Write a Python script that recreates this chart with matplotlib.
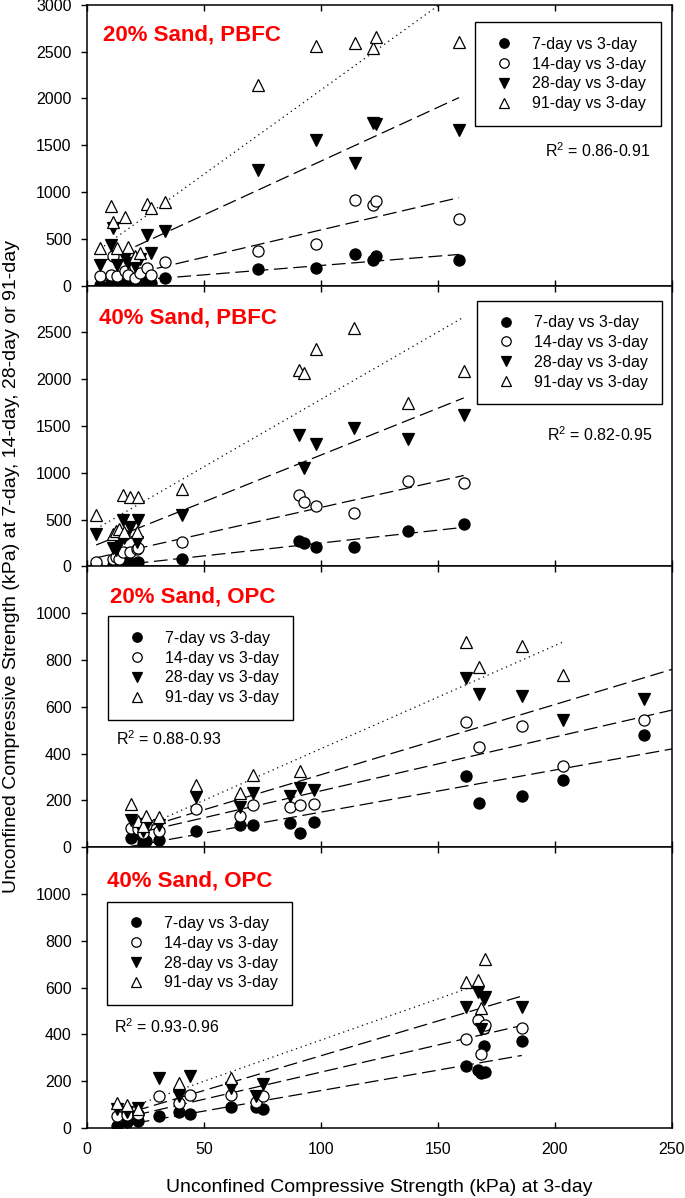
import matplotlib
matplotlib.use('Agg')
import matplotlib.pyplot as plt
import numpy as np

plt.rcParams['font.family'] = ['Liberation Sans', 'DejaVu Sans']
plt.rcParams['mathtext.fontset'] = 'custom'
plt.rcParams['mathtext.rm'] = 'Liberation Sans'

nan = np.nan

# 20% Sand, PBFC
p1_x = [5.6, 10.3, 11.1, 12.7, 16.3, 17.4, 20.5, 22.7, 25.8, 27.4, 33.4, 73.1, 97.7, 114.7, 122.3, 123.7, 159]
p1_d7 = [10, 25, 30, 15, 20, 35, 20, 15, 40, 30, 82, 178, 185, 341, 278, 313, 270]
p1_d14 = [100, 117, 313, 100, 153, 110, 85, 135, 189, 117, 253, 366, 448, 911, 857, 907, 715]
p1_d28 = [224, 437, 619, 224, 300, 245, 206, 280, 544, 352, 580, 1231, 1551, 1309, 1736, 1730, 1665]
p1_d91 = [405, 854, 683, 405, 737, 416, 313, 352, 875, 832, 896, 2142, 2565, 2590, 2537, 2661, 2607]

# 40% Sand, PBFC
p2_x = [3.9, 11.3, 12.2, 13.8, 15.5, 16.0, 18.4, 21.3, 21.7, 40.5, 90.6, 92.6, 98.0, 114.3, 137.3, 161]
p2_d7 = [10, 20, 25, 30, 30, 35, 40, 30, 45, 75, 267, 253, 203, 206, 374, 449]
p2_d14 = [46, 75, 100, 75, 150, 332, 153, 188, 200, 260, 767, 688, 642, 570, 909, 891]
p2_d28 = [350, 200, 171, 250, 492, 300, 420, 260, 492, 553, 1401, 1051, 1305, 1479, 1358, 1615]
p2_d91 = [553, 350, 380, 403, 759, 367, 741, 367, 741, 831, 2096, 2061, 2318, 2542, 1747, 2085]

# 20% Sand, OPC
p3_x = [18.7, 22.0, 24.1, 25.1, 30.8, 46.5, 65.5, 70.8, 86.6, 91.2, 96.9, 161.8, 167.5, 185.8, 203.5, 238.1]
p3_d7 = [40, 55, 18, 28, 30, 68, 93, 93, 104, 61, 108, 306, 189, 218, 289, 479]
p3_d14 = [83, 78, 60, 97, 68, 164, 132, 179, 172, 182, 185, 536, 430, 517, 349, 543]
p3_d28 = [115, 100, 70, 90, 97, 214, 171, 232, 218, 251, 246, 724, 655, 645, 543, 634]
p3_d91 = [185, 110, 90, 135, 130, 268, 232, 308, nan, 325, nan, 876, 769, 859, 738, nan]

# 40% Sand, OPC
p4_x = [12.7, 17.0, 22.0, 30.8, 39.5, 44.1, 61.6, 72.4, 75.2, 161.8, 167.2, 168.2, 169.7, 169.9, 185.8]
p4_d7 = [10, 25, 30, 51, 69, 58, 88, 91, 81, 264, 247, 235, 350, 240, 374]
p4_d14 = [50, 55, 60, 138, 108, 143, 143, 112, 138, 379, 460, 315, 427, 440, 428]
p4_d28 = [80, 70, 84, 212, 138, 223, 169, 138, 187, 516, 580, 424, 552, 560, 516]
p4_d91 = [105, 98, 80, nan, 191, nan, 213, nan, nan, 622, 633, 512, nan, 722, nan]

# fitted lines: (slope, intercept, x start, x end) for 7/14/28/91-day
p1_fit = [(2.0, 15, 5.6, 159), (5.85, 10, 5.6, 159), (11.5, 180, 5.6, 159), (18.0, 290, 5.6, 159)]
p2_fit = [(2.75, -25, 3.9, 161), (5.6, 70, 3.9, 161), (10.0, 190, 3.9, 161), (14.4, 345, 3.9, 161)]
p3_fit = [(1.8, -30, 18.7, 250), (2.3, 11, 18.7, 250), (3.0, 10, 18.7, 250), (4.41, -20, 18.7, 203.5)]
p4_fit = [(1.75, -15, 12.7, 185.8), (2.32, 7, 12.7, 185.8), (2.97, 12, 12.7, 185.8), (3.52, 24, 12.7, 165)]

titles = ['20% Sand, PBFC', '40% Sand, PBFC', '20% Sand, OPC', '40% Sand, OPC']
r2_texts = ['R$^2$ = 0.86-0.91', 'R$^2$ = 0.82-0.95', 'R$^2$ = 0.88-0.93', 'R$^2$ = 0.93-0.96']
labels = ['7-day vs 3-day', '14-day vs 3-day', '28-day vs 3-day', '91-day vs 3-day']

panels = [
    (p1_x, [p1_d7, p1_d14, p1_d28, p1_d91], p1_fit),
    (p2_x, [p2_d7, p2_d14, p2_d28, p2_d91], p2_fit),
    (p3_x, [p3_d7, p3_d14, p3_d28, p3_d91], p3_fit),
    (p4_x, [p4_d7, p4_d14, p4_d28, p4_d91], p4_fit),
]

ylims = [3000, 3000, 1200, 1200]
yticks = [np.arange(0, 3001, 500), np.arange(0, 2501, 500), np.arange(0, 1001, 200), np.arange(0, 1001, 200)]
title_pos = [(0.027, 0.893), (0.021, 0.886), (0.039, 0.89), (0.034, 0.879)]
r2_pos = [(0.9636, 0.48, 'right'), (0.9675, 0.468, 'right'), (0.05, 0.386, 'left'), (0.046, 0.36, 'left')]
leg_pos = [(0.664, 0.937), (0.667, 0.946), (0.036, 0.822), (0.034, 0.806)]

styles = [
    dict(marker='o', mfc='black', mec='black', ms=8),
    dict(marker='o', mfc='white', mec='black', ms=8),
    dict(marker='v', mfc='black', mec='black', ms=8.5),
    dict(marker='^', mfc='white', mec='black', ms=8.5),
]
line_styles = [(0, (11, 4.5)), (0, (11, 4.5)), (0, (11, 4.5)), (0, (1, 3))]

fig, axes = plt.subplots(4, 1, sharex=True, figsize=(6.85, 11.98), dpi=100)
fig.subplots_adjust(left=0.127, right=0.981, top=0.996, bottom=0.0584, hspace=0)

for i, ax in enumerate(axes):
    x, ys, fits = panels[i]
    handles = []
    for j in range(4):
        h, = ax.plot(x, ys[j], linestyle='none', mew=0.9, label=labels[j], zorder=3, **styles[j])
        handles.append(h)
    for j in range(4):
        s, b, x0, x1 = fits[j]
        xx = np.array([x0, x1])
        ax.plot(xx, s * xx + b, color='black', lw=0.9, linestyle=line_styles[j], zorder=2)

    ax.set_xlim(0, 250)
    ax.set_ylim(0, ylims[i])
    ax.set_yticks(yticks[i])
    ax.set_xticks(np.arange(0, 251, 50))
    ax.tick_params(axis='y', direction='out', length=4.5, width=1, labelsize=11.5, pad=6.5, right=False)
    ax.tick_params(axis='x', direction='in', length=4.5, width=1, labelsize=11.5, pad=10, top=True)
    for sp in ax.spines.values():
        sp.set_linewidth(1.1)

    tx, ty = title_pos[i]
    ax.text(tx, ty, titles[i], transform=ax.transAxes, color='red', fontsize=16,
            fontweight='bold', ha='left', va='center')
    rx, ry, ha = r2_pos[i]
    ax.text(rx, ry, r2_texts[i], transform=ax.transAxes, fontsize=11.5, ha=ha, va='center')

    leg = ax.legend(handles=handles, loc='upper left', bbox_to_anchor=leg_pos[i], borderaxespad=0,
                    fontsize=11.5, frameon=True, fancybox=False, framealpha=1, edgecolor='black',
                    handlelength=1.8, handletextpad=0.85, borderpad=0.9, labelspacing=0.3,
                    markerscale=0.85)
    leg.get_frame().set_linewidth(1.0)
    leg.set_zorder(5)

fig.text(0.0175, 0.5275, 'Unconfined Compressive Strength (kPa) at 7-day, 14-day, 28-day or 91-day',
         rotation=90, ha='center', va='center', fontsize=14)
fig.text(0.554, 0.0085, 'Unconfined Compressive Strength (kPa) at 3-day',
         ha='center', va='center', fontsize=14)

fig.savefig('out.png', dpi=100)
